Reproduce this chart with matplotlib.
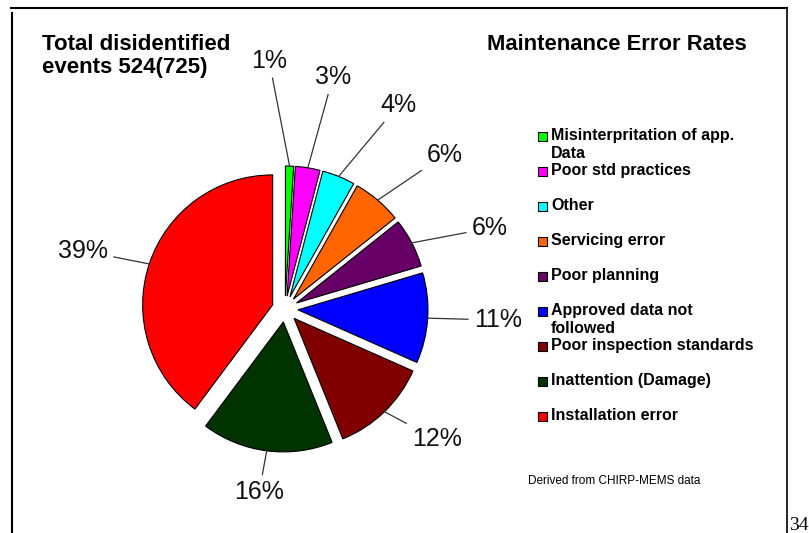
import numpy as np
import matplotlib
matplotlib.use('Agg')
import matplotlib.pyplot as plt
from matplotlib.patches import Rectangle

# data
categories = ['Misinterpritation of app.\nData', 'Poor std practices', 'Other',
              'Servicing error', 'Poor planning', 'Approved data not\nfollowed',
              'Poor inspection standards', 'Inattention (Damage)', 'Installation error']
values = [1, 3, 4, 6, 6, 11, 12, 16, 39]
pct_labels = ['1%', '3%', '4%', '6%', '6%', '11%', '12%', '16%', '39%']
colors = ['#00ff00', '#ff00ff', '#00ffff', '#ff6600', '#660066',
          '#0000ff', '#800000', '#003300', '#ff0000']

W, H = 809, 533
plt.rcParams['font.family'] = ['Liberation Sans', 'DejaVu Sans']

fig = plt.figure(figsize=(W / 100, H / 100), dpi=100)
ax = fig.add_axes([0, 0, 1, 1])

def Y(y):
    # pixel row (from top) -> axes y
    return H - y

cx, cy, R = 285, Y(309), 130
# pie's explode offset is in data units, not scaled by radius
wedges, _ = ax.pie(values, colors=colors, explode=[0.1 * R] * len(values),
                   startangle=90, counterclock=False, center=(cx, cy), radius=R,
                   wedgeprops=dict(edgecolor='black', linewidth=0.8))
ax.set_xlim(0, W)
ax.set_ylim(0, H)
ax.set_aspect('equal')
ax.axis('off')

# label placement: distance from pie centre (px) and angle shift from wedge middle
lab_dist = [249, 237, 233, 222, 220, 213, 200, 185, 210]
lab_shift = [5.5, -2.5, -7, -5.6, -6, 0.7, 5.2, -0.7, 2.3]
for w, txt, d, s in zip(wedges, pct_labels, lab_dist, lab_shift):
    mid = np.deg2rad((w.theta1 + w.theta2) / 2)
    wx, wy = w.center
    ax_pt = (wx + w.r * np.cos(mid), wy + w.r * np.sin(mid))
    ang = mid + np.deg2rad(s)
    tx, ty = cx + d * np.cos(ang), cy + d * np.sin(ang)
    ax.annotate(txt, xy=ax_pt, xytext=(tx, ty), ha='center', va='center',
                fontsize=18, color='#111111',
                arrowprops=dict(arrowstyle='-', color='#333333', lw=0.9,
                                shrinkA=2, shrinkB=0))

# titles
ax.text(42, Y(34), 'Total disidentified\nevents 524(725)', fontsize=16,
        fontweight='bold', ha='left', va='top', linespacing=1.12)
ax.text(487, Y(45), 'Maintenance Error Rates', fontsize=15.8, fontweight='bold',
        ha='left', va='center')

# legend drawn by hand, fixed row step like the original
y0, step = 136, 35
for i, (lab, col) in enumerate(zip(categories, colors)):
    yc = y0 + i * step
    ax.add_patch(Rectangle((538, Y(yc + 4.5)), 9, 9, facecolor=col,
                           edgecolor='black', linewidth=0.8))
    ax.text(551, Y(yc - 8), lab, fontsize=11.5, fontweight='bold', ha='left',
            va='top', linespacing=1.28)

ax.text(528, Y(481), 'Derived from CHIRP-MEMS data', fontsize=8.5, ha='left',
        va='center')

# frame lines and page number
ax.plot([11, 787], [Y(8), Y(8)], color='black', lw=1.5)
ax.plot([12, 12], [Y(13), 0], color='black', lw=1.5)
ax.plot([787, 787], [Y(8), 0], color='black', lw=1.2)
ax.text(789, Y(530), '34', fontsize=14, family='Liberation Serif', ha='left',
        va='baseline')

fig.savefig('out.png', dpi=100)
